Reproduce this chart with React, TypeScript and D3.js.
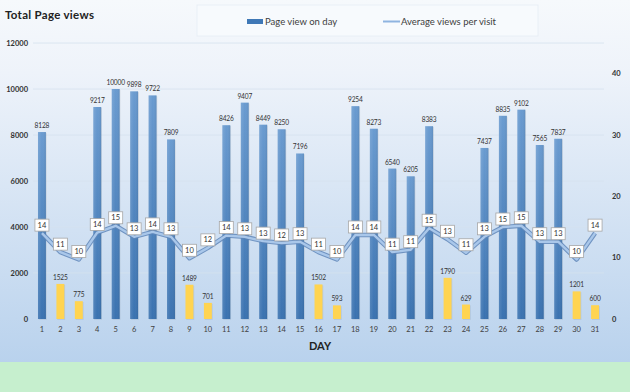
import * as d3 from "d3";

const days = d3.range(1, 32).map(String);
const pageViews = [8128, 1525, 775, 9217, 10000, 9898, 9722, 7809, 1489, 701, 8426, 9407, 8449, 8250, 7196, 1502, 593, 9254, 8273, 6540, 6205, 8383, 1790, 629, 7437, 8835, 9102, 7565, 7837, 1201, 600];
const avgViews = [14.0, 10.9, 9.7, 14.1, 15.2, 13.4, 14.2, 13.4, 9.9, 11.6, 13.6, 13.4, 12.7, 12.4, 12.6, 10.9, 9.7, 13.7, 13.7, 10.9, 11.3, 14.8, 13.0, 10.8, 13.4, 15.0, 15.2, 12.6, 12.6, 9.7, 14.0];
const leftTicks = [0, 2000, 4000, 6000, 8000, 10000, 12000];
const rightTicks = [0, 10, 20, 30, 40];

const W = 630;
const H = 392;
const FONT = "Lato, 'Open Sans', sans-serif";

export default function App() {
  const x = d3.scaleBand<string>().domain(days).range([33, 604]).paddingInner(0.57).paddingOuter(0.27);
  const yL = d3.scaleLinear().domain([0, 12000]).range([319, 43]);
  const yR = d3.scaleLinear().domain([0, 45]).range([319, 43]);
  const cx = (d: string) => (x(d) ?? 0) + x.bandwidth() / 2;

  const line = d3
    .line<number>()
    .x((_, i) => cx(days[i]))
    .y((d) => yR(d));
  const linePath = line(avgViews) ?? "";

  return (
    <svg width={W} height={H} style={{ position: "fixed", left: 0, top: 0 }} fontFamily={FONT}>
      <defs>
        <linearGradient id="bg" x1="0" y1="0" x2="0" y2="1">
          <stop offset="0" stopColor="#f6f9fc" />
          <stop offset="0.2" stopColor="#eef3fa" />
          <stop offset="1" stopColor="#b9d2ed" />
        </linearGradient>
        <linearGradient id="barBlue" x1="0" y1="0" x2="0" y2="1">
          <stop offset="0" stopColor="#6a9bd0" />
          <stop offset="1" stopColor="#3a72b0" />
        </linearGradient>
        <linearGradient id="barBlueH" x1="0" y1="0" x2="1" y2="0">
          <stop offset="0" stopColor="#ffffff" stopOpacity="0.12" />
          <stop offset="0.5" stopColor="#ffffff" stopOpacity="0" />
          <stop offset="1" stopColor="#000000" stopOpacity="0.08" />
        </linearGradient>
      </defs>

      <rect x={0} y={0} width={W} height={362} fill="url(#bg)" />
      <rect x={0} y={362} width={W} height={30} fill="#c6efce" />

      {/* title */}
      <text x={5} y={19} fontSize={11.5} fontWeight={700} fill="#222" letterSpacing={0.3}>
        Total Page views
      </text>

      {/* legend */}
      <rect x={197} y={5} width={341} height={31} fill="#f7fafd" stroke="#e6edf5" strokeWidth={0.8} />
      <rect x={247} y={19} width={16} height={5} fill="#3f78b6" />
      <text x={265} y={25} fontSize={9.5} fill="#404040">
        Page view on day
      </text>
      <line x1={383} x2={400} y1={21.5} y2={21.5} stroke="#8fb4e0" strokeWidth={2} />
      <text x={401} y={25} fontSize={9.5} fill="#404040">
        Average views per visit
      </text>

      {/* grid */}
      {leftTicks.slice(1).map((t) => (
        <line key={t} x1={33} x2={604} y1={yL(t)} y2={yL(t)} stroke="#d6e2ef" strokeWidth={0.8} />
      ))}

      {/* left axis labels */}
      {leftTicks.map((t) => (
        <text key={t} x={28} y={yL(t) + 2.5} textAnchor="end" fontSize={7.5} fontWeight={700} fill="#333">
          {t}
        </text>
      ))}
      {/* right axis labels */}
      {rightTicks.map((t) => (
        <text key={t} x={612} y={yR(t) + 2.5} fontSize={7.5} fontWeight={700} fill="#333">
          {t}
        </text>
      ))}

      {/* bars */}
      {pageViews.map((v, i) => {
        const d = days[i];
        const low = v < 2000;
        const bx = x(d) ?? 0;
        return (
          <g key={d}>
            <rect x={bx + 0.8} y={yL(v) + 0.8} width={x.bandwidth()} height={yL(0) - yL(v)} fill="#000" opacity={0.08} />
            <rect x={bx} y={yL(v)} width={x.bandwidth()} height={yL(0) - yL(v)} fill={low ? "#ffd451" : "url(#barBlue)"} />
            {!low && <rect x={bx} y={yL(v)} width={x.bandwidth()} height={yL(0) - yL(v)} fill="url(#barBlueH)" />}
            <text x={cx(d)} y={yL(v) - 4} textAnchor="middle" fontSize={6.6} letterSpacing={-0.15} fill="#333">
              {v}
            </text>
          </g>
        );
      })}

      {/* line */}
      <path d={linePath} fill="none" stroke="#5f86b8" strokeWidth={4.5} strokeLinejoin="round" opacity={0.85} />
      <path d={linePath} fill="none" stroke="#a9c7ea" strokeWidth={2.4} strokeLinejoin="round" />

      {/* line labels */}
      {avgViews.map((v, i) => {
        const px = cx(days[i]);
        const py = yR(v) - 8;
        return (
          <g key={i}>
            <rect x={px - 7} y={py - 6} width={14} height={12} fill="#fff" stroke="#a6a6a6" strokeWidth={0.8} />
            <text x={px} y={py + 2.6} textAnchor="middle" fontSize={7.5} fill="#333">
              {Math.round(v)}
            </text>
          </g>
        );
      })}

      {/* x axis labels */}
      {days.map((d) => (
        <text key={d} x={cx(d)} y={332} textAnchor="middle" fontSize={7.5} fill="#404040">
          {d}
        </text>
      ))}
      <text x={320} y={350} textAnchor="middle" fontSize={11} fontWeight={700} fill="#222">
        DAY
      </text>
    </svg>
  );
}
